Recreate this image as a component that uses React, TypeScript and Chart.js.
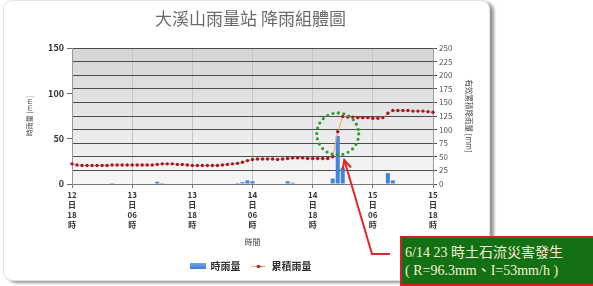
import React, { useEffect, useRef } from 'react';
import { Chart, registerables } from 'chart.js';

Chart.register(...registerables);

const FONT = '"Noto Sans CJK TC", "Noto Sans", sans-serif';

// 73 hourly categories: 12日18時 ... 15日18時
const DAYS = [12, 13, 14, 15];
const HOURS: string[] = [];
DAYS.forEach((d) => {
  for (let h = 0; h < 24; h++) {
    if ((d === 12 && h < 18) || (d === 15 && h > 18)) continue;
    HOURS.push(`${d}日${String(h).padStart(2, '0')}時`);
  }
});

const TICK_LABELS: Record<number, string[]> = {
  0: ['12', '日', '18', '時'],
  12: ['13', '日', '06', '時'],
  24: ['13', '日', '18', '時'],
  36: ['14', '日', '06', '時'],
  48: ['14', '日', '18', '時'],
  60: ['15', '日', '06', '時'],
  72: ['15', '日', '18', '時'],
};

// 時雨量 (mm/h), left axis
const HOURLY_RAIN = [
  0, 0, 0, 0, 0, 0, 0, 0,
  1,
  0, 0, 0, 0, 0, 0, 0, 0,
  2.5, 1,
  0, 0, 0, 0, 0, 0,
  0.6,
  0, 0, 0, 0, 0, 0,
  0.6, 1, 2, 4, 3,
  0, 0, 0, 0, 0, 0,
  3, 1.5,
  0, 0,
  0.6,
  0, 0, 0, 0,
  6, 53, 18,
  0, 0, 0, 0, 0, 0, 0, 0,
  12, 4,
  0, 0, 0, 0, 0, 0, 0, 0,
];

// 累積雨量 (mm), right axis
const CUM_RAIN = [
  37, 35, 34, 34, 34, 34, 34, 34,
  35, 35, 35, 35, 35, 35, 35, 35, 35,
  36, 37, 37, 37, 36, 36, 35,
  34, 34, 34, 34, 34, 34,
  35, 36, 37, 38, 40, 43, 45,
  46, 46, 46, 46, 45, 46, 47,
  48, 48, 48, 47, 47, 47, 47, 47,
  50, 96, 124, 123, 123, 122, 122, 122, 121, 121, 122,
  130, 135, 135, 135, 135, 134, 134, 134, 133, 132,
];

const EVENT_INDEX = 53; // 14日23時
const CIRCLE_VALUE = 92; // right-axis value at circle centre

function makeIcon(draw: (c: CanvasRenderingContext2D) => void) {
  const c = document.createElement('canvas');
  c.width = 16;
  c.height = 8;
  draw(c.getContext('2d') as CanvasRenderingContext2D);
  return c;
}

export default function App() {
  const ref = useRef<HTMLCanvasElement>(null);

  useEffect(() => {
    const canvas = ref.current;
    if (!canvas) return;

    const barIcon = makeIcon((ctx) => {
      const g = ctx.createLinearGradient(0, 1, 0, 7);
      g.addColorStop(0, '#6fa6ea');
      g.addColorStop(1, '#3b7ad4');
      ctx.fillStyle = g;
      ctx.fillRect(0, 1, 16, 6);
    });
    const lineIcon = makeIcon((ctx) => {
      ctx.strokeStyle = '#f0a858';
      ctx.lineWidth = 1;
      ctx.beginPath();
      ctx.moveTo(1, 4.5);
      ctx.lineTo(15, 4.5);
      ctx.stroke();
      ctx.fillStyle = '#a31830';
      ctx.beginPath();
      ctx.arc(8, 4.5, 1.8, 0, Math.PI * 2);
      ctx.fill();
    });

    const bgPlugin = {
      id: 'plotBg',
      beforeDraw(chart: any) {
        const { ctx, chartArea: a } = chart;
        if (!a) return;
        const g = ctx.createLinearGradient(0, a.top, 0, a.bottom);
        g.addColorStop(0, '#d5d5d5');
        g.addColorStop(1, '#f7f7f7');
        ctx.save();
        ctx.fillStyle = g;
        ctx.fillRect(a.left, a.top, a.right - a.left, a.bottom - a.top);
        ctx.restore();
      },
    };

    const annotPlugin = {
      id: 'annot',
      afterDraw(chart: any) {
        const { ctx, scales } = chart;
        const cx = scales.x.getPixelForValue(EVENT_INDEX);
        const cy = scales.y1.getPixelForValue(CIRCLE_VALUE);
        ctx.save();
        ctx.strokeStyle = '#2f9a30';
        ctx.lineWidth = 3.2;
        ctx.lineCap = 'round';
        ctx.setLineDash([0, 5.5]);
        ctx.beginPath();
        ctx.arc(cx, cy, 21, 0, Math.PI * 2);
        ctx.stroke();

        const tx = scales.x.getPixelForValue(EVENT_INDEX + 1.3);
        const ty = scales.y1.getPixelForValue(44);
        ctx.setLineDash([]);
        ctx.lineCap = 'butt';
        ctx.strokeStyle = '#e02626';
        ctx.lineWidth = 2;
        const kx = 372;
        const ky = 254;
        ctx.beginPath();
        ctx.moveTo(390, ky);
        ctx.lineTo(kx, ky);
        ctx.lineTo(tx, ty);
        ctx.stroke();
        const ang = Math.atan2(ty - ky, tx - kx);
        const L = 10;
        ctx.beginPath();
        ctx.moveTo(tx - L * Math.cos(ang - 0.45), ty - L * Math.sin(ang - 0.45));
        ctx.lineTo(tx, ty);
        ctx.lineTo(tx - L * Math.cos(ang + 0.45), ty - L * Math.sin(ang + 0.45));
        ctx.stroke();
        ctx.restore();
      },
    };

    const chart = new Chart(canvas, {
      type: 'bar',
      data: {
        labels: HOURS,
        datasets: [
          {
            type: 'line',
            label: '累積雨量',
            data: CUM_RAIN,
            yAxisID: 'y1',
            borderColor: '#f0a858',
            borderWidth: 1,
            pointRadius: 1.7,
            pointBorderWidth: 0,
            pointBackgroundColor: '#a31830',
            tension: 0,
            order: 1,
          } as any,
          {
            type: 'bar',
            label: '時雨量',
            data: HOURLY_RAIN,
            yAxisID: 'y',
            backgroundColor: '#3f84de',
            categoryPercentage: 1,
            barPercentage: 0.8,
            order: 2,
          },
        ],
      },
      options: {
        animation: false,
        responsive: false,
        maintainAspectRatio: false,
        layout: { padding: { left: 20, right: 112, top: 0, bottom: 5 } },
        plugins: {
          tooltip: { enabled: false },
          title: {
            display: true,
            text: '大溪山雨量站 降雨組體圖',
            color: '#6a6a6a',
            font: { size: 17, family: FONT, weight: 'normal' },
            padding: { top: 8, bottom: 19.6 },
          },
          legend: {
            position: 'bottom',
            labels: {
              usePointStyle: true,
              pointStyleWidth: 16,
              padding: 10,
              color: '#333',
              font: { size: 10, family: FONT, weight: 'bold' },
              generateLabels: () => [
                { text: '時雨量', pointStyle: barIcon, fillStyle: '#3f84de', strokeStyle: '#3f84de', lineWidth: 0, hidden: false, datasetIndex: 1, fontColor: '#333' } as any,
                { text: '累積雨量', pointStyle: lineIcon, fillStyle: '#a31830', strokeStyle: '#f0a858', lineWidth: 0, hidden: false, datasetIndex: 0, fontColor: '#333' } as any,
              ],
            },
          },
        },
        scales: {
          x: {
            type: 'category',
            offset: false,
            grid: { offset: false, color: '#c4c4c4', lineWidth: 1, tickLength: 4, tickColor: '#777', drawOnChartArea: true },
            border: { color: '#777' },
            ticks: {
              autoSkip: false,
              maxRotation: 0,
              minRotation: 0,
              padding: 2,
              color: '#333',
              font: { size: 8, family: FONT, weight: 'bold', lineHeight: 1.25 },
              callback: (_v: any, i: number) => (TICK_LABELS[i] ? TICK_LABELS[i] : null),
            },
            title: {
              display: true,
              text: '時間',
              color: '#444',
              font: { size: 8, family: FONT },
              padding: { top: 2, bottom: 4 },
            },
            afterFit: (s: any) => {
              s.height = 67;
            },
          },
          y: {
            position: 'left',
            min: 0,
            max: 150,
            ticks: { stepSize: 50, padding: 3, color: '#333', font: { size: 9, family: FONT, weight: 'bold' } },
            grid: { drawOnChartArea: false, tickLength: 5, color: '#666' },
            border: { color: '#999' },
            title: {
              display: true,
              text: '時雨量 [mm]',
              color: '#444',
              font: { size: 7, family: FONT },
              padding: { top: 5, bottom: 0 },
            },
            afterFit: (s: any) => {
              s.width = 52;
            },
          },
          y1: {
            position: 'right',
            min: 0,
            max: 250,
            ticks: { stepSize: 25, padding: 2, color: '#555', font: { size: 8, family: FONT } },
            grid: { drawOnChartArea: true, tickLength: 4, color: '#4c4c4c', lineWidth: 1 },
            border: { color: '#999' },
            title: {
              display: true,
              text: '有效累積降雨量 [mm]',
              color: '#444',
              font: { size: 7.5, family: FONT },
              padding: { top: 8, bottom: 0 },
            },
            afterFit: (s: any) => {
              s.width = 48;
            },
          },
        },
      },
      plugins: [bgPlugin, annotPlugin],
    });

    return () => chart.destroy();
  }, []);

  return (
    <div style={{ position: 'fixed', left: 0, top: 0, width: 593, height: 286, overflow: 'hidden', background: '#fff' }}>
      <div
        style={{
          position: 'absolute',
          left: 3,
          top: 0,
          width: 487,
          height: 281,
          background: '#fff',
          border: '1px solid #e2e2e2',
          borderRadius: 9,
          boxShadow: '4px 2px 3px rgba(0,0,0,0.4)',
          boxSizing: 'border-box',
        }}
      />
      <canvas ref={ref} width={593} height={286} style={{ position: 'absolute', left: 0, top: 0, width: 593, height: 286 }} />
      <div
        style={{
          position: 'absolute',
          left: 400,
          top: 236,
          width: 193,
          height: 50,
          boxSizing: 'border-box',
          background: '#147014',
          border: '2px solid #d42222',
          borderRight: 'none',
          color: '#f6f2d8',
          fontFamily: '"Liberation Serif", "DejaVu Serif", "Noto Sans CJK TC", serif',
          fontSize: 14,
          lineHeight: '18px',
          padding: '6px 0 0 3px',
          whiteSpace: 'nowrap',
        }}
      >
        <div>6/14 23 時土石流災害發生</div>
        <div>( R=96.3mm、I=53mm/h )</div>
      </div>
    </div>
  );
}
